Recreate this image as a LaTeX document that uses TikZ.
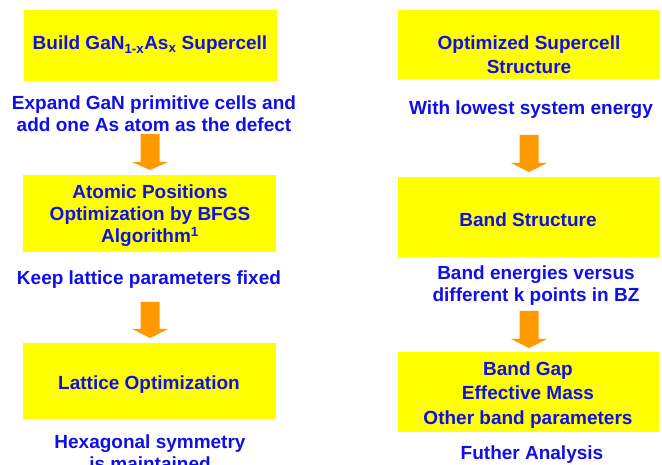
\documentclass[tikz,border=0pt]{standalone}
\usepackage{fontspec}
\setmainfont{Liberation Sans}
\definecolor{boxyellow}{RGB}{255,255,0}
\definecolor{txtblue}{RGB}{16,16,230}
\definecolor{arrorange}{RGB}{255,153,0}
\tikzset{
  ybox/.style={fill=boxyellow, draw=none},
  lbl/.style={text=txtblue, font=\fontsize{19}{22}\selectfont\bfseries, align=center, inner sep=0pt},
  widelbl/.style={lbl, font=\fontsize{19}{24.5}\selectfont\bfseries},
  farrow/.style={fill=arrorange, draw=none}
}
\newcommand{\downarr}[4]{% center x, top y, head start y, tip y
  \fill[farrow] (#1-9.5,#2) -- (#1+9.5,#2) -- (#1+9.5,#3) -- (#1+18,#3) -- (#1,#4) -- (#1-18,#3) -- (#1-9.5,#3) -- cycle;}
\begin{document}
\begin{tikzpicture}[x=1pt,y=-1pt]
\useasboundingbox (0,0) rectangle (662,465);
\begin{scope}
\clip (0,0) rectangle (662,465);
% left column boxes
\fill[ybox] (24,10) rectangle (277,81);
\fill[ybox] (23,175) rectangle (276,252);
\fill[ybox] (23,343) rectangle (276,419);
% right column boxes
\fill[ybox] (398,10) rectangle (660,79);
\fill[ybox] (398,177) rectangle (660,257);
\fill[ybox] (398,352) rectangle (659,432);
% arrows
\downarr{150}{134}{162}{170}
\downarr{150}{302}{329}{338}
\downarr{529}{135}{163}{172}
\downarr{529}{311}{339}{348}
% left texts
\node[lbl] (b1) at (150,45) {Build GaN\textsubscript{1-x}As\textsubscript{x} Supercell};
\node[lbl] (t1) at (154,114) {Expand GaN primitive cells and\\add one As atom as the defect};
\node[lbl] (b2) at (150,216) {Atomic Positions\\Optimization by BFGS\\Algorithm\textsuperscript{1}};
\node[lbl] (t2) at (149,280) {Keep lattice parameters fixed};
\node[lbl] (b3) at (149,385) {Lattice Optimization};
\node[lbl, anchor=north] (t3) at (150,435) {Hexagonal symmetry\\is maintained};
% right texts
\node[widelbl] (r1) at (529,54.5) {Optimized Supercell\\Structure};
\node[lbl, anchor=west] (s1) at (409,110) {With lowest system energy};
\node[lbl] (r2) at (528,220) {Band Structure};
\node[lbl] (s2) at (536,286) {Band energies versus\\different k points in BZ};
\node[widelbl] (r3) at (528,395) {Band Gap\\Effective Mass\\Other band parameters};
\node[lbl] (s3) at (532,455) {Futher Analysis};
\end{scope}
\end{tikzpicture}
\end{document}
